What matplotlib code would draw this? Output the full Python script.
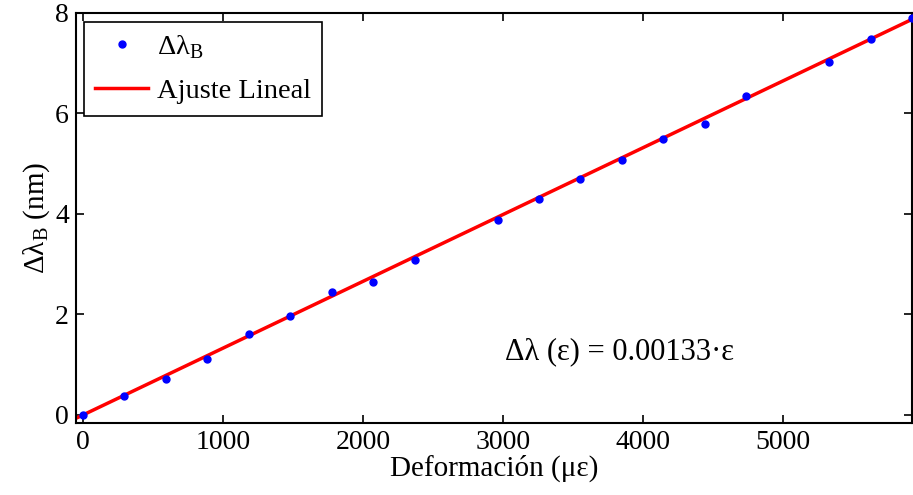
import matplotlib
matplotlib.use("Agg")
import matplotlib.pyplot as plt
import numpy as np

strain = [0, 296, 592, 888, 1184, 1480, 1776, 2072, 2368, 2960, 3256, 3552,
          3848, 4144, 4440, 4736, 5328, 5624, 5920]
dlambda = [0.0, 0.38, 0.71, 1.11, 1.62, 1.97, 2.44, 2.65, 3.08, 3.89, 4.30,
           4.70, 5.08, 5.49, 5.80, 6.35, 7.03, 7.48, 7.91]
slope = 0.00133
xticks = [0, 1000, 2000, 3000, 4000, 5000]
yticks = [0, 2, 4, 6, 8]

plt.rcParams['font.family'] = ['Liberation Serif', 'DejaVu Serif']
plt.rcParams['mathtext.fontset'] = 'custom'
plt.rcParams['mathtext.rm'] = 'Liberation Serif'

fig = plt.figure(figsize=(9.13, 4.95), dpi=100)
ax = fig.add_axes([76/913, 1-423/495, (912-76)/913, (423-13)/495])

xlim = (-50, 5920)
ax.plot(strain, dlambda, 'o', color='#0000ff', markersize=5, label=r'Δλ$_\mathrm{B}$', zorder=3)
xf = np.array(xlim)
ax.plot(xf, slope * xf, '-', color='#ff0000', linewidth=2.5, label='Ajuste Lineal', zorder=2)

ax.set_xlim(*xlim)
ax.set_ylim(-0.16, 8)
ax.set_xticks(xticks)
ax.set_yticks(yticks)
ax.tick_params(direction='in', top=True, right=True, labelsize=20, length=6, width=1.2, pad=5)
for s in ax.spines.values():
    s.set_linewidth(1.5)

ax.set_xlabel('Deformación (με)', fontsize=21, labelpad=0)
ax.set_ylabel(r'Δλ$_\mathrm{B}$ (nm)', fontsize=21, labelpad=2)

ax.text(3010, 1.25, 'Δλ (ε) = 0.00133·ε', fontsize=22, va='center', ha='left')

leg = ax.legend(loc='upper left', bbox_to_anchor=(84/913, 1-22/495),
                bbox_transform=fig.transFigure, borderaxespad=0, fontsize=20.5,
                fancybox=False, edgecolor='black', framealpha=1, handlelength=1.85,
                handletextpad=0.3, borderpad=0.4, labelspacing=0.6,
                numpoints=1)
leg.get_frame().set_linewidth(1.2)

fig.savefig('out.png', dpi=100)
